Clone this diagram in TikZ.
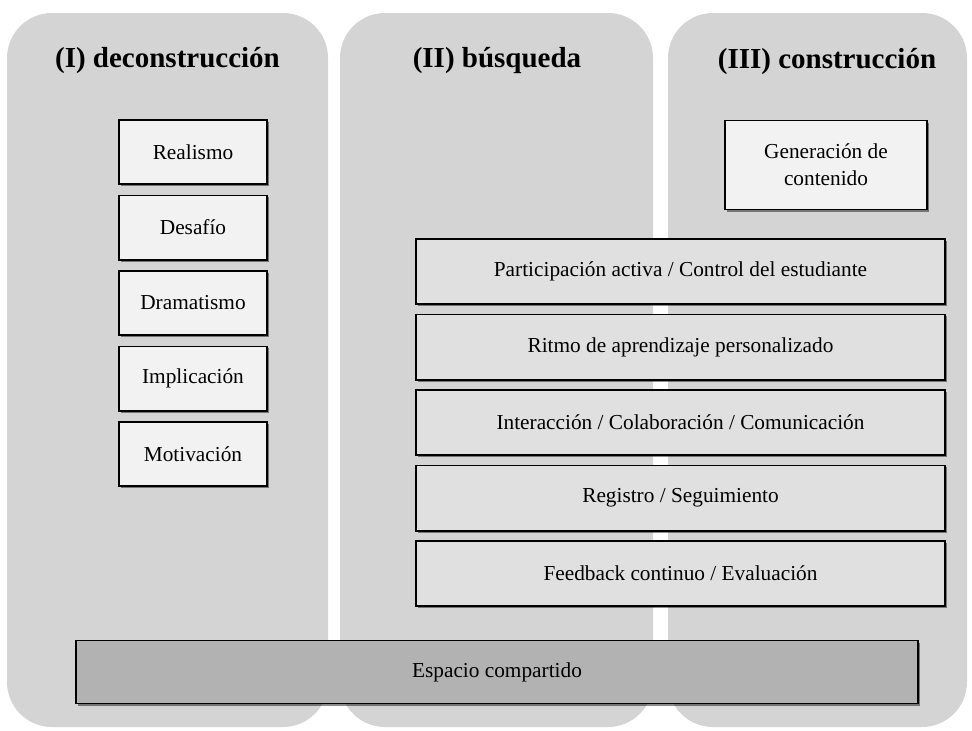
\documentclass[tikz,border=0pt]{standalone}
\usepackage{fontspec}
\setmainfont{Liberation Serif}
\usepackage{tikz}
\usetikzlibrary{shapes, positioning}
\usetikzlibrary{shadows}

\definecolor{colfase}{gray}{0.83}
\definecolor{cajaclara}{gray}{0.95}
\definecolor{cajamedia}{gray}{0.88}
\definecolor{cajaoscura}{gray}{0.70}

\begin{document}
\begin{tikzpicture}[x=1pt, y=-1pt, node distance=9.5pt,
	fase/.style={fill=colfase, rounded corners=45pt},
	titulo/.style={font=\fontsize{29}{35}\selectfont\bfseries, anchor=base},
	caja/.style={draw=black, line width=1.6pt, fill=cajaclara, inner sep=0pt, align=center,
		minimum height=64.4pt, font=\fontsize{21.3}{27}\selectfont,
		drop shadow={shadow xshift=1.5pt, shadow yshift=-2pt, opacity=0.45, fill=black}},
	cajaancha/.style={caja, fill=cajamedia, minimum width=529pt, minimum height=65.4pt}]
			\useasboundingbox (0,0) rectangle (972,731);
			\fill[fase] (7,13) rectangle (328,727);
			\fill[fase] (340,13) rectangle (653,727);
			\fill[fase] (668,13) rectangle (967,727);
			\node[titulo] (tI) at (167.5,67) {(I) deconstrucción};
			\node[titulo] (tII) at (497,67) {(II) búsqueda};
			\node[titulo] (tIII) at (827,68) {(III) construcción};

			\node[caja, minimum width=148pt] (realismo) at (193,152) {Realismo};
			\node[caja, minimum width=148pt, below=of realismo] (desafio) {Desafío};
			\node[caja, minimum width=148pt, below=of desafio] (dramatismo) {Dramatismo};
			\node[caja, minimum width=148pt, below=of dramatismo] (implicacion) {Implicación};
			\node[caja, minimum width=148pt, below=of implicacion] (motivacion) {Motivación};

			\node[caja, minimum width=202pt, minimum height=89pt] (generacion) at (826,165) {Generación de\\contenido};

			\node[cajaancha] (participacion) at (680.5,271.5) {Participación activa / Control del estudiante};
			\node[cajaancha, below=8.5pt of participacion] (ritmo) {Ritmo de aprendizaje personalizado};
			\node[cajaancha, below=8.5pt of ritmo] (interaccion) {Interacción / Colaboración / Comunicación};
			\node[cajaancha, below=8.5pt of interaccion] (registro) {Registro / Seguimiento};
			\node[cajaancha, below=8.5pt of registro] (feedback) {Feedback continuo / Evaluación};

			\node[caja, fill=cajaoscura, minimum width=842pt, minimum height=63pt] (espacio) at (497,672) {Espacio compartido};
		\end{tikzpicture}
\end{document}
